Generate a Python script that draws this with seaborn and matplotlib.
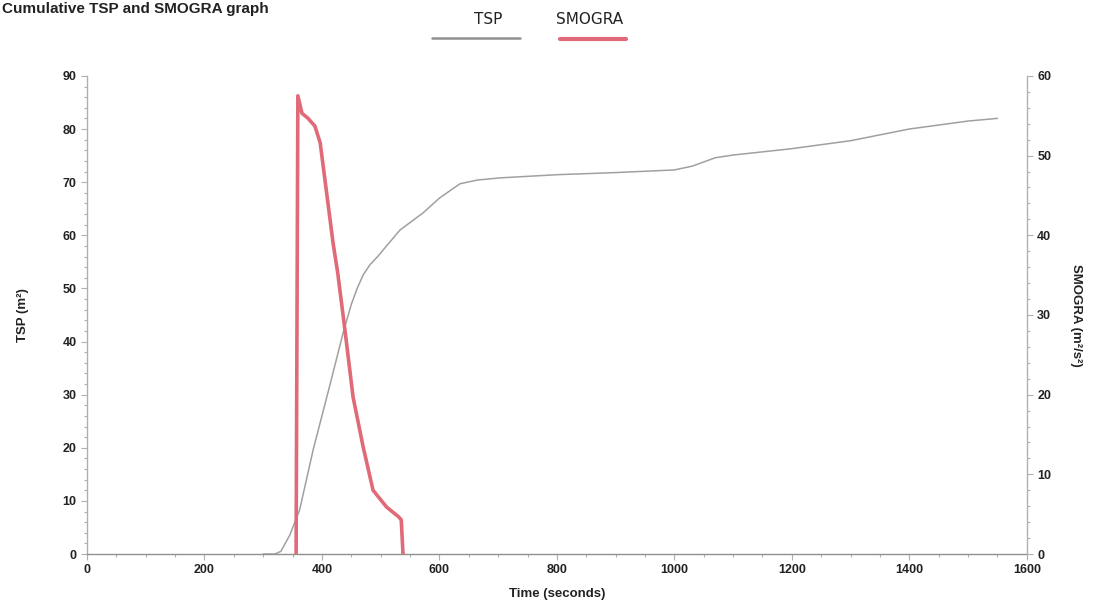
import pandas as pd
import seaborn as sns
import matplotlib.pyplot as plt
from matplotlib.lines import Line2D
from matplotlib.ticker import MultipleLocator

# TSP (left axis, m2)
tsp_time = [300, 320, 330, 345, 362, 385, 414, 436, 450, 460, 470, 482, 495, 510, 533, 572, 600,
            635, 665, 703, 800, 900, 1000, 1030, 1070, 1100, 1200, 1300, 1400, 1500, 1550]
tsp_val = [0, 0, 0.5, 3.5, 8.3, 19.6, 32, 41.6, 47, 50, 52.5, 54.5, 56, 58, 61, 64.2, 67,
           69.7, 70.4, 70.8, 71.4, 71.8, 72.3, 73, 74.6, 75.1, 76.3, 77.8, 80, 81.5, 82]

# SMOGRA (right axis, m2/s2)
smo_time = [356, 359, 366, 376, 388, 397, 408, 419, 427, 439, 453, 470, 487, 510, 530, 535, 538]
smo_val = [0, 57.5, 55.3, 54.7, 53.7, 51.6, 45.3, 39, 35.2, 28.2, 19.7, 13.5, 8, 5.9, 4.7, 4.3, 0]

tsp = pd.DataFrame({'time': tsp_time, 'TSP': tsp_val})
smo = pd.DataFrame({'time': smo_time, 'SMOGRA': smo_val})

sns.set_style('white')
plt.rcParams['font.family'] = ['Liberation Sans', 'DejaVu Sans']

fig = plt.figure(figsize=(10.97, 6.13), dpi=100)
ax = fig.add_axes([0.0793, 0.0962, 0.8567, 0.78])
ax2 = ax.twinx()

sns.lineplot(data=tsp, x='time', y='TSP', ax=ax, color='#a0a0a0', linewidth=1.1)
sns.lineplot(data=smo, x='time', y='SMOGRA', ax=ax2, color='#e06a78', linewidth=2.6)

ax.set_xlim(0, 1600)
ax.set_ylim(0, 90)
ax2.set_ylim(0, 60)
ax.xaxis.set_major_locator(MultipleLocator(200))
ax.xaxis.set_minor_locator(MultipleLocator(50))
ax.yaxis.set_major_locator(MultipleLocator(10))
ax.yaxis.set_minor_locator(MultipleLocator(2))
ax2.yaxis.set_major_locator(MultipleLocator(10))
ax2.yaxis.set_minor_locator(MultipleLocator(2))

for a in (ax, ax2):
    for s in a.spines.values():
        s.set_visible(False)
ax.spines['left'].set_visible(True)
ax.spines['bottom'].set_visible(True)
ax2.spines['right'].set_visible(True)
for s in (ax.spines['left'], ax.spines['bottom'], ax2.spines['right']):
    s.set_color('#b0b0b0')
    s.set_linewidth(1.0)
ax.spines['bottom'].set_color('#909090')

ax.tick_params(axis='both', which='major', length=4, width=0.8, color='#b0b0b0',
               labelsize=9, left=True, bottom=True)
ax.tick_params(axis='both', which='minor', length=2.5, width=0.8, color='#b0b0b0',
               left=True, bottom=True)
ax2.tick_params(axis='y', which='major', length=4, width=0.8, color='#b0b0b0',
                labelsize=9, right=True)
ax2.tick_params(axis='y', which='minor', length=2.5, width=0.8, color='#b0b0b0', right=True)
for lab in ax.get_xticklabels() + ax.get_yticklabels() + ax2.get_yticklabels():
    lab.set_fontweight('bold')
    lab.set_color('#222222')

ax.set_xlabel('Time (seconds)', fontsize=9.5, fontweight='bold', color='#222222', labelpad=8)
ax.set_ylabel('TSP (m²)', fontsize=9.5, fontweight='bold', color='#222222', labelpad=24)
ax2.set_ylabel('SMOGRA (m²/s²)', fontsize=9.5, fontweight='bold', color='#222222',
               rotation=270, labelpad=22)

# title at the top-left edge
fig.text(0.002, 0.997, 'Cumulative TSP and SMOGRA graph', fontsize=11,
         fontweight='bold', va='top', ha='left', color='#222222')

# legend: label above its line
fig.text(488 / 1097, 1 - 20 / 613, 'TSP', ha='center', va='center', fontsize=11,
         color='#222222', family=['DejaVu Sans'])
fig.text(590 / 1097, 1 - 20 / 613, 'SMOGRA', ha='center', va='center', fontsize=11,
         color='#222222', family=['DejaVu Sans'])
fig.add_artist(Line2D([432 / 1097, 520 / 1097], [1 - 38 / 613] * 2,
                      color='#909090', linewidth=1.8, transform=fig.transFigure))
fig.add_artist(Line2D([560 / 1097, 626 / 1097], [1 - 39 / 613] * 2,
                      color='#e06a78', linewidth=3, transform=fig.transFigure))

fig.savefig('out.png', dpi=100)
